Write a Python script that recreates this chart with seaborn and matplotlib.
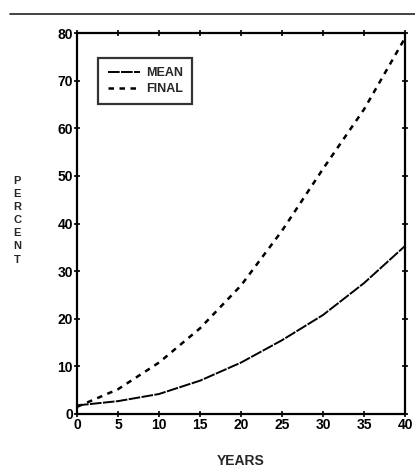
import matplotlib
matplotlib.use("Agg")
import matplotlib.pyplot as plt
from matplotlib.lines import Line2D
import seaborn as sns
import pandas as pd

years = [0, 5, 10, 15, 20, 25, 30, 35, 40]
mean_pct = [1.8, 2.7, 4.2, 7.0, 10.8, 15.5, 20.8, 27.5, 35.3]
final_pct = [1.5, 5.2, 10.8, 18.0, 27.0, 38.5, 51.5, 64.0, 79.0]
x_ticks = [0, 5, 10, 15, 20, 25, 30, 35, 40]
y_ticks = [0, 10, 20, 30, 40, 50, 60, 70, 80]

sns.set_theme(style="ticks")
plt.rcParams['font.family'] = ['Liberation Sans', 'DejaVu Sans']
plt.rcParams['font.weight'] = 'bold'

fig = plt.figure(figsize=(4.15, 4.74), dpi=100)
fig.patch.set_facecolor('white')

fig.add_artist(Line2D([0.025, 1.0], [0.97, 0.97], color='#222222', lw=1.2))

ax = fig.add_axes([0.1855, 0.1266, 0.7905, 0.8034])

df = pd.DataFrame({"YEARS": years, "MEAN": mean_pct, "FINAL": final_pct})
sns.lineplot(data=df, x="YEARS", y="MEAN", ax=ax, color='black', lw=1.4,
             linestyle=(0, (6, 0.7)), label="MEAN")
sns.lineplot(data=df, x="YEARS", y="FINAL", ax=ax, color='black', lw=1.8,
             linestyle=(0, (2.2, 2.2)), label="FINAL")

ax.set_xlim(0, 40)
ax.set_ylim(0, 80)
ax.set_xticks(x_ticks)
ax.set_yticks(y_ticks)
ax.set_xticklabels([str(t) for t in x_ticks], fontsize=10, fontweight='heavy')
ax.set_yticklabels([str(t) for t in y_ticks], fontsize=10, fontweight='heavy')
ax.tick_params(direction='inout', length=4, width=1.2, pad=1,
               top=True, right=True, colors='black')
for s in ax.spines.values():
    s.set_linewidth(1.6)
    s.set_color('black')

ax.set_xlabel("YEARS", fontsize=10, fontweight='heavy', labelpad=16)
ax.set_ylabel("")
fig.text(0.042, 0.535, "P\nE\nR\nC\nE\nN\nT", fontsize=8, fontweight='heavy',
         ha='center', va='center', linespacing=1.38)

leg = ax.legend(loc='upper left', bbox_to_anchor=(0.065, 0.935), frameon=True,
                fancybox=False, edgecolor='black', fontsize=9,
                handlelength=2.6, handletextpad=0.45, borderpad=0.75,
                labelspacing=0.3, borderaxespad=0.0)
leg.get_frame().set_linewidth(1.6)
for t in leg.get_texts():
    t.set_fontweight('heavy')

fig.savefig("out.png", dpi=100)
